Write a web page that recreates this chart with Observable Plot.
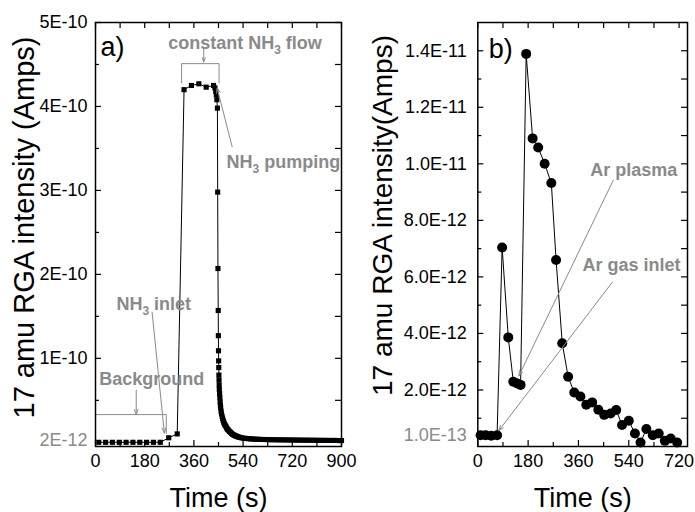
<!DOCTYPE html>
<html><head><meta charset="utf-8">
<script src="https://cdn.jsdelivr.net/npm/d3@7"></script>
<script src="https://cdn.jsdelivr.net/npm/@observablehq/plot@0.6"></script>
<style>
body{margin:0;background:#fff;}
#wrap{position:relative;width:695px;height:512px;overflow:hidden;background:#fff;}
#a{position:absolute;left:0;top:0;}
#b{position:absolute;left:345px;top:0;}
svg{overflow:visible;}
</style></head><body><div id="wrap"><div id="a"></div><div id="b"></div></div>
<script>
// ---------- Panel a data (time in s, 17 amu RGA intensity in A) ----------
const timeA = [12,37,62,87,112,137,162,187,212,237,268,299,324,351,378,405,432,
  437,440,442,444,446,447,448,449,449.5,450,450.5,451,
  451.5,452,452.5,453,454,455,456,457,458,459.5,
  461,463,465,467,469,471.5,474,477,480,483,
  486,490,494,498,502,506,510,514,518,523,
  528,534,540,547,554,561,568,576,584,592,
  600,610,620,630,640,650,660,670,680,690,700,710,720,730,740,750,760,770,780,790,800,810,820,830,840,850,860,870,880,890,900];
const rgaA = [0,0,0,0,0,0,0,0,0,0,0.054e-10,0.10e-10,4.20e-10,4.25e-10,4.27e-10,4.23e-10,4.25e-10,
  4.22e-10,4.18e-10,4.14e-10,4.08e-10,3.98e-10,2.98e-10,2.07e-10,1.57e-10,1.27e-10,1.09e-10,0.97e-10,0.89e-10,
  0.80e-10,0.74e-10,0.68e-10,0.63e-10,0.58e-10,0.53e-10,0.48e-10,0.44e-10,0.41e-10,0.37e-10,
  0.34e-10,0.31e-10,0.285e-10,0.26e-10,0.24e-10,0.22e-10,0.205e-10,0.19e-10,0.17e-10,0.155e-10,
  0.145e-10,0.13e-10,0.12e-10,0.105e-10,0.095e-10,0.088e-10,0.08e-10,0.075e-10,0.069e-10,0.063e-10,
  0.058e-10,0.054e-10,0.05e-10,0.047e-10,0.045e-10,0.043e-10,0.041e-10,0.039e-10,0.037e-10,0.036e-10,
  0.035e-10,0.034e-10,0.033e-10,0.032e-10,0.031e-10,0.031e-10,0.030e-10,0.030e-10,0.029e-10,0.029e-10,0.028e-10,0.028e-10,0.027e-10,0.027e-10,0.026e-10,0.026e-10,0.025e-10,0.025e-10,0.025e-10,0.024e-10,0.024e-10,0.024e-10,0.023e-10,0.023e-10,0.023e-10,0.022e-10,0.022e-10,0.022e-10,0.022e-10,0.021e-10,0.021e-10];

// ---------- Panel b data ----------
const timeB = [10,28,48,69,87,109,127,141,153,173,196,216,239,263,280,302,323,345,367,388,409,431,452,475,495,516,540,562,582,603,626,647,669,690,713];
const rgaB = [0.40e-12,0.40e-12,0.38e-12,0.40e-12,7.04e-12,3.86e-12,2.29e-12,2.23e-12,2.18e-12,13.89e-12,10.90e-12,10.58e-12,10.00e-12,9.32e-12,
  6.60e-12,3.65e-12,2.47e-12,1.91e-12,1.77e-12,1.48e-12,1.56e-12,1.30e-12,1.12e-12,1.17e-12,1.29e-12,0.76e-12,0.91e-12,0.46e-12,0.14e-12,
  0.62e-12,0.40e-12,0.46e-12,0.20e-12,0.28e-12,0.14e-12];

// ---------- Ticks ----------
const xMajorA = [0,180,360,540,720,900];
const xMinorA = [90,270,450,630,810];
const yMajorA = [1e-10,2e-10,3e-10,4e-10,5e-10];
const yMajorLabelsA = ["1E-10","2E-10","3E-10","4E-10","5E-10"];
const yMinorA = [0.5e-10,1.5e-10,2.5e-10,3.5e-10,4.5e-10];
const yGrayTickA = [2e-12];
const yGrayLabelA = ["2E-12"];

const xMajorB = [0,180,360,540,720];
const xMinorB = [90,270,450,630];
const yMajorB = [2e-12,4e-12,6e-12,8e-12,10e-12,12e-12,14e-12];
const yMajorLabelsB = ["2.0E-12","4.0E-12","6.0E-12","8.0E-12","1.0E-11","1.2E-11","1.4E-11"];
const yMinorB = [1e-12,3e-12,5e-12,7e-12,9e-12,11e-12,13e-12];
const yGrayTickB = [0.4e-12];
const yGrayLabelB = ["1.0E-13"];

// ---------- Annotations (data space) ----------
const notesA = [
  {t: 547, v: 4.75e-10, text: "constant NH3 flow"},
  {t: 687, v: 3.34e-10, text: "NH3 pumping"},
  {t: 213, v: 1.65e-10, text: "NH3 inlet"},
  {t: 206, v: 0.75e-10, text: "Background"}
];
const arrowsA = [
  {t1: 396, v1: 4.69e-10, t2: 396, v2: 4.53e-10},
  {t1: 500, v1: 3.52e-10, t2: 445, v2: 4.22e-10},
  {t1: 207, v1: 1.55e-10, t2: 252, v2: 0.11e-10},
  {t1: 149, v1: 0.62e-10, t2: 149, v2: 0.33e-10}
];
const bracketA = [
  {id: "flow", t: 315, v: 4.28e-10}, {id: "flow", t: 315, v: 4.51e-10},
  {id: "flow", t: 452, v: 4.51e-10}, {id: "flow", t: 452, v: 4.28e-10},
  {id: "bg", t: 0, v: 0.33e-10}, {id: "bg", t: 259, v: 0.33e-10}, {id: "bg", t: 259, v: 0.105e-10}
];
const notesB = [
  {t: 558, v: 9.77e-12, text: "Ar plasma"},
  {t: 550, v: 6.40e-12, text: "Ar gas inlet"}
];
const arrowsB = [
  {t1: 484, v1: 9.41e-12, t2: 147, v2: 2.50e-12},
  {t1: 481, v1: 5.81e-12, t2: 75, v2: 0.56e-12}
];

const FONT = "'Liberation Sans', Arial, Helvetica, sans-serif";
const GRAY = "#8a8a8a";

function panel({width, mL, mR, xDomain, yDomain, time, rga, symbol, r, xMajor, xMinor, yMajor, yMajorLabels, yMinor, yGrayTick, yGrayLabel, yPad, notes, arrows, bracket, tag, tagDx, tagDy, ylabel, ylabelFont, ylabelX, ylabelDy}) {
  const mT = 22, mB = 66, H = 512;
  const fh = H - mT - mB;
  const data = time.map((t, i) => ({t, v: rga[i]}));
  const majLen = 6, minLen = 4;
  const labMap = new Map(yMajor.map((v, i) => [v, yMajorLabels[i]]));
  const grayMap = new Map(yGrayTick.map((v, i) => [v, yGrayLabel[i]]));
  const tickStyle = {stroke: "black", strokeWidth: 1.2};
  const marks = [
    Plot.line(data, {x: "t", y: "v", stroke: "black", strokeWidth: 1}),
    Plot.dot(data, {x: "t", y: "v", symbol, r, fill: "black", stroke: "none"}),
  ];
  if (bracket) marks.push(Plot.line(bracket, {x: "t", y: "v", z: "id", stroke: GRAY, strokeWidth: 1}));
  marks.push(
    Plot.arrow(arrows, {x1: "t1", y1: "v1", x2: "t2", y2: "v2", stroke: GRAY, strokeWidth: 1, headLength: 8, headAngle: 40}),
    Plot.text(notes, {x: "t", y: "v", text: "text", fill: GRAY, fontWeight: "bold", fontSize: 18, textAnchor: "middle", lineAnchor: "middle", fontFamily: FONT}),
    Plot.frame({stroke: "black", strokeWidth: 1.5}),
    // inward ticks on all four sides
    Plot.tickX(xMajor, {x: d => d, insetTop: fh - majLen, ...tickStyle}),
    Plot.tickX(xMinor, {x: d => d, insetTop: fh - minLen, ...tickStyle}),
    Plot.tickX(xMajor.concat(xMinor), {x: d => d, insetBottom: fh - majLen, ...tickStyle}),
    Plot.tickY(yMajor, {y: d => d, insetRight: (width - mL - mR) - majLen, ...tickStyle}),
    Plot.tickY(yMinor, {y: d => d, insetRight: (width - mL - mR) - minLen, ...tickStyle}),
    Plot.tickY(yMajor.concat(yMinor), {y: d => d, insetLeft: (width - mL - mR) - majLen, ...tickStyle}),
    Plot.axisX({ticks: xMajor, tickSize: 0, tickPadding: 8, tickFormat: d => String(d), label: null, fontSize: 18, fill: "black"}),
    Plot.axisY({ticks: yMajor, tickSize: 0, tickPadding: yPad, tickFormat: d => labMap.get(d), label: null, fontSize: 18, fill: "black"}),
    Plot.axisY({ticks: yGrayTick, tickSize: 0, tickPadding: yPad, tickFormat: d => grayMap.get(d), label: null, fontSize: 18, fill: GRAY}),
    Plot.text([tag], {frameAnchor: "top-left", dx: tagDx, dy: tagDy, text: d => d, fontSize: 27, textAnchor: "start", lineAnchor: "bottom", fill: "black"}),
    Plot.text([ylabel], {frameAnchor: "left", dx: ylabelX - mL, dy: ylabelDy, rotate: -90, text: d => d, fontSize: ylabelFont, textAnchor: "middle", lineAnchor: "bottom", fill: "black"}),
    Plot.text(["Time (s)"], {frameAnchor: "bottom", dy: 60, text: d => d, fontSize: 27, textAnchor: "middle", lineAnchor: "bottom", fill: "black"})
  );
  return Plot.plot({
    width, height: H,
    marginLeft: mL, marginRight: mR, marginTop: mT, marginBottom: mB,
    style: {fontFamily: FONT, background: "transparent", overflow: "visible", color: "black"},
    x: {domain: xDomain},
    y: {domain: yDomain},
    marks
  });
}

function subscriptNH3(svg) {
  svg.querySelectorAll("text").forEach(t => {
    const s = t.textContent;
    if (!s.includes("NH3") || t.querySelector("tspan.sub")) return;
    const idx = s.indexOf("NH3");
    const before = s.slice(0, idx + 2), after = s.slice(idx + 3);
    while (t.firstChild) t.removeChild(t.firstChild);
    const ns = "http://www.w3.org/2000/svg";
    const a = document.createElementNS(ns, "tspan"); a.textContent = before; t.appendChild(a);
    const b = document.createElementNS(ns, "tspan"); b.setAttribute("class", "sub"); b.setAttribute("font-size", "12"); b.setAttribute("dy", "5"); b.textContent = "3"; t.appendChild(b);
    const c = document.createElementNS(ns, "tspan"); c.setAttribute("dy", "-5"); c.textContent = after; t.appendChild(c);
  });
}

const chartA = panel({
  width: 345, mL: 95, mR: 4, xDomain: [0, 900], yDomain: [-5e-12, 5e-10],
  time: timeA, rga: rgaA, symbol: "square", r: 2.9,
  xMajor: xMajorA, xMinor: xMinorA, yMajor: yMajorA, yMajorLabels: yMajorLabelsA, yMinor: yMinorA,
  yGrayTick: yGrayTickA, yGrayLabel: yGrayLabelA, yPad: 8,
  notes: notesA, arrows: arrowsA, bracket: bracketA,
  tag: "a)", tagDx: 5, tagDy: 33,
  ylabel: "17 amu RGA intensity (Amps)", ylabelFont: 29, ylabelX: 33, ylabelDy: -7
});
const chartB = panel({
  width: 350, mL: 132.3, mR: 8, xDomain: [0, 750], yDomain: [0, 1.5e-11],
  time: timeB, rga: rgaB, symbol: "circle", r: 5,
  xMajor: xMajorB, xMinor: xMinorB, yMajor: yMajorB, yMajorLabels: yMajorLabelsB, yMinor: yMinorB,
  yGrayTick: yGrayTickB, yGrayLabel: yGrayLabelB, yPad: 11,
  notes: notesB, arrows: arrowsB, bracket: null,
  tag: "b)", tagDx: 11, tagDy: 35,
  ylabel: "17 amu RGA intensity(Amps)", ylabelFont: 28, ylabelX: 46.7, ylabelDy: -19
});
subscriptNH3(chartA);
document.getElementById("a").appendChild(chartA);
document.getElementById("b").appendChild(chartB);
</script>
</body></html>
